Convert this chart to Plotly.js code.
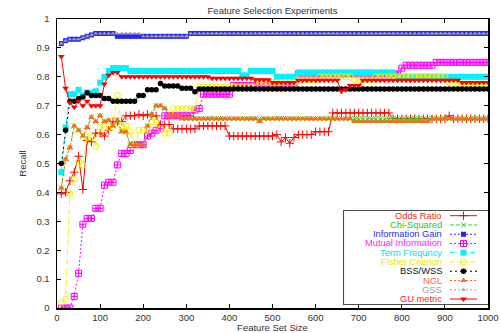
<!DOCTYPE html>
<html><head><meta charset="utf-8">
<script src="https://cdn.plot.ly/plotly-3.0.1.min.js"></script>
<style>html,body{margin:0;padding:0;background:#fff}#chart{width:501px;height:333px}</style>
</head><body><div id="chart"></div>
<script>
const featureSizes = [10,20,30,40,50,60,70,80,90,100,110,120,130,140,150,160,170,180,190,200,
210,220,230,240,250,260,270,280,290,300,310,320,330,340,350,360,370,380,390,400,
410,420,430,440,450,460,470,480,490,500,510,520,530,540,550,560,570,580,590,600,
610,620,630,640,650,660,670,680,690,700,710,720,730,740,750,760,770,780,790,800,
810,820,830,840,850,860,870,880,890,900,910,920,930,940,950,960,970,980,990,1000];

const oddsRatio = [0.395,0.40,0.44,0.47,0.525,0.41,0.58,0.575,0.605,0.605,
0.595,0.615,0.645,0.645,0.645,0.665,0.665,0.665,0.67,0.665,
0.67,0.665,0.665,0.635,0.635,0.635,0.62,0.62,0.62,0.62,
0.62,0.62,0.63,0.63,0.63,0.63,0.63,0.63,0.63,0.595,
0.595,0.595,0.595,0.595,0.595,0.595,0.595,0.595,0.595,0.595,
0.60,0.575,0.59,0.57,0.59,0.60,0.60,0.60,0.60,0.61,
0.61,0.61,0.61,0.675,0.675,0.675,0.675,0.675,0.675,0.675,
0.675,0.675,0.675,0.675,0.675,0.675,0.675,0.655,0.655,0.655,
0.655,0.655,0.655,0.655,0.655,0.655,0.655,0.655,0.655,0.655,
0.665,0.655,0.655,0.655,0.655,0.655,0.655,0.655,0.655,0.655];

const chiSquared = [0.415,0.515,0.555,0.63,0.615,0.595,0.625,0.66,0.645,0.665,
0.645,0.65,0.63,0.65,0.61,0.61,0.565,0.565,0.565,0.565,
0.63,0.67,0.70,0.70,0.69,0.665,0.665,0.665,0.655,0.655,
0.655,0.655,0.655,0.655,0.655,0.655,0.655,0.655,0.655,0.655,
0.655,0.655,0.655,0.655,0.655,0.655,0.655,0.655,0.655,0.655,
0.655,0.655,0.655,0.655,0.655,0.655,0.655,0.655,0.655,0.655,
0.655,0.655,0.655,0.655,0.655,0.655,0.655,0.655,0.655,0.655,
0.655,0.655,0.655,0.655,0.655,0.655,0.655,0.655,0.655,0.655,
0.655,0.655,0.655,0.655,0.655,0.655,0.655,0.655,0.655,0.655,
0.655,0.655,0.655,0.655,0.655,0.655,0.655,0.655,0.655,0.655];

const infoGain = [0.915,0.925,0.93,0.93,0.93,0.935,0.94,0.945,0.95,0.95,
0.95,0.95,0.95,0.94,0.94,0.94,0.94,0.94,0.94,0.94,
0.94,0.94,0.94,0.94,0.94,0.94,0.94,0.94,0.94,0.94,
0.95,0.95,0.95,0.95,0.95,0.95,0.95,0.95,0.95,0.95,
0.95,0.95,0.95,0.95,0.95,0.95,0.95,0.95,0.95,0.95,
0.95,0.95,0.95,0.95,0.95,0.95,0.95,0.95,0.95,0.95,
0.95,0.95,0.95,0.95,0.95,0.95,0.95,0.95,0.95,0.95,
0.95,0.95,0.95,0.95,0.95,0.95,0.95,0.95,0.95,0.95,
0.95,0.95,0.95,0.95,0.95,0.95,0.95,0.95,0.95,0.95,
0.95,0.95,0.95,0.95,0.95,0.95,0.95,0.95,0.95,0.95];

const mutualInfo = [0,0,0,0.04,0.12,0.29,0.31,0.31,0.345,0.345,
0.425,0.435,0.435,0.495,0.535,0.535,0.545,0.565,0.565,0.565,
0.595,0.605,0.615,0.62,0.665,0.665,0.665,0.665,0.665,0.665,
0.665,0.685,0.69,0.74,0.74,0.74,0.74,0.74,0.74,0.74,
0.77,0.77,0.77,0.77,0.77,0.77,0.77,0.77,0.77,0.77,
0.77,0.77,0.77,0.77,0.77,0.81,0.81,0.81,0.81,0.81,
0.81,0.81,0.81,0.81,0.81,0.81,0.81,0.81,0.81,0.81,
0.81,0.81,0.81,0.81,0.81,0.81,0.81,0.81,0.81,0.83,
0.84,0.84,0.84,0.84,0.84,0.84,0.84,0.85,0.85,0.85,
0.85,0.85,0.85,0.85,0.85,0.85,0.85,0.85,0.85,0.85];

const termFreq = [0.47,0.625,0.74,0.74,0.755,0.735,0.745,0.745,0.75,0.78,
0.80,0.82,0.83,0.83,0.83,0.83,0.82,0.82,0.82,0.82,
0.82,0.82,0.82,0.82,0.82,0.82,0.82,0.82,0.82,0.82,
0.82,0.82,0.82,0.82,0.82,0.82,0.82,0.82,0.82,0.82,
0.82,0.82,0.805,0.805,0.82,0.82,0.82,0.82,0.82,0.82,
0.80,0.80,0.80,0.80,0.80,0.815,0.815,0.815,0.815,0.815,
0.815,0.815,0.815,0.815,0.815,0.815,0.815,0.815,0.815,0.815,
0.815,0.815,0.815,0.815,0.815,0.815,0.815,0.815,0.80,0.80,
0.80,0.80,0.80,0.80,0.80,0.80,0.80,0.80,0.80,0.80,
0.80,0.80,0.80,0.80,0.80,0.80,0.80,0.80,0.80,0.80];

const fisher = [0.02,0.03,0.395,0.445,0.505,0.495,0.59,0.59,0.56,0.625,
0.625,0.625,0.625,0.735,0.63,0.63,0.61,0.56,0.615,0.615,
0.615,0.645,0.645,0.62,0.605,0.605,0.69,0.69,0.69,0.69,
0.69,0.69,0.765,0.765,0.765,0.765,0.765,0.765,0.765,0.765,
0.765,0.765,0.765,0.765,0.765,0.78,0.78,0.78,0.78,0.78,
0.78,0.78,0.78,0.78,0.78,0.79,0.79,0.79,0.79,0.79,
0.80,0.80,0.80,0.80,0.80,0.80,0.80,0.80,0.79,0.79,
0.79,0.79,0.79,0.80,0.80,0.80,0.80,0.80,0.80,0.80,
0.80,0.80,0.80,0.80,0.80,0.80,0.80,0.80,0.80,0.80,
0.78,0.78,0.78,0.775,0.775,0.775,0.775,0.775,0.775,0.775];

const bssWss = [0.50,0.615,0.715,0.715,0.725,0.73,0.745,0.735,0.735,0.735,
0.725,0.725,0.715,0.715,0.715,0.715,0.715,0.715,0.735,0.735,
0.755,0.755,0.755,0.777,0.768,0.768,0.768,0.768,0.76,0.76,
0.76,0.748,0.758,0.758,0.758,0.758,0.758,0.758,0.758,0.758,
0.758,0.758,0.758,0.758,0.758,0.758,0.758,0.758,0.758,0.758,
0.758,0.758,0.758,0.758,0.758,0.758,0.758,0.758,0.758,0.758,
0.758,0.758,0.758,0.758,0.758,0.758,0.758,0.758,0.758,0.758,
0.758,0.758,0.758,0.758,0.758,0.758,0.758,0.758,0.758,0.758,
0.758,0.758,0.758,0.758,0.758,0.758,0.758,0.758,0.758,0.758,
0.758,0.758,0.758,0.758,0.758,0.758,0.758,0.758,0.758,0.758];

const ngl = [0.415,0.515,0.555,0.63,0.615,0.595,0.625,0.66,0.645,0.665,
0.645,0.65,0.63,0.65,0.61,0.61,0.565,0.565,0.565,0.565,
0.63,0.67,0.70,0.70,0.69,0.665,0.665,0.665,0.655,0.655,
0.655,0.655,0.655,0.655,0.655,0.655,0.655,0.655,0.655,0.655,
0.655,0.655,0.655,0.655,0.655,0.655,0.645,0.655,0.655,0.655,
0.655,0.655,0.655,0.655,0.655,0.655,0.655,0.655,0.655,0.655,
0.655,0.655,0.655,0.655,0.655,0.655,0.655,0.655,0.645,0.645,
0.645,0.645,0.645,0.645,0.645,0.645,0.645,0.645,0.645,0.645,
0.645,0.645,0.645,0.645,0.645,0.645,0.655,0.655,0.655,0.655,
0.655,0.655,0.655,0.655,0.655,0.655,0.655,0.655,0.655,0.655];

const gss = [0.915,0.925,0.93,0.93,0.93,0.935,0.94,0.945,0.95,0.95,
0.95,0.95,0.95,0.95,0.95,0.95,0.95,0.95,0.95,0.94,
0.94,0.94,0.94,0.94,0.94,0.94,0.94,0.94,0.94,0.94,
0.95,0.95,0.95,0.95,0.95,0.95,0.95,0.95,0.95,0.95,
0.95,0.95,0.95,0.95,0.95,0.95,0.95,0.95,0.95,0.95,
0.95,0.95,0.95,0.95,0.95,0.95,0.95,0.95,0.95,0.95,
0.95,0.95,0.95,0.95,0.95,0.95,0.95,0.95,0.95,0.95,
0.95,0.95,0.95,0.95,0.95,0.95,0.95,0.95,0.95,0.95,
0.95,0.95,0.95,0.95,0.95,0.95,0.95,0.95,0.95,0.95,
0.95,0.95,0.95,0.95,0.95,0.95,0.95,0.95,0.95,0.95];

const guMetric = [0.87,0.76,0.71,0.695,0.715,0.70,0.715,0.70,0.70,0.70,
0.775,0.805,0.815,0.815,0.80,0.80,0.80,0.80,0.80,0.80,
0.80,0.80,0.80,0.80,0.80,0.80,0.80,0.80,0.80,0.80,
0.80,0.80,0.80,0.80,0.80,0.795,0.795,0.795,0.795,0.795,
0.795,0.795,0.795,0.795,0.795,0.79,0.79,0.79,0.79,0.78,
0.78,0.78,0.78,0.78,0.78,0.788,0.788,0.788,0.788,0.788,
0.788,0.788,0.788,0.788,0.788,0.75,0.755,0.77,0.77,0.77,
0.788,0.788,0.788,0.788,0.788,0.788,0.788,0.788,0.788,0.788,
0.788,0.788,0.788,0.788,0.788,0.788,0.788,0.788,0.788,0.788,
0.788,0.788,0.788,0.78,0.78,0.78,0.78,0.78,0.78,0.78];

const seriesNames = ['Odds Ratio','Chi-Squared','Information Gain','Mutual Information','Term Frequncy',
  'Fisher Crierion','BSS/WSS','NGL','GSS','GU metric'];
const seriesValues = [oddsRatio, chiSquared, infoGain, mutualInfo, termFreq, fisher, bssWss, ngl, gss, guMetric];

// styles (colour, text colour, dash, marker)
const styles = [
  {color:'#ff0000', text:'#ff1a1a', dash:'solid', symbol:'cross-thin-open', size:6, open:true},
  {color:'#22e022', text:'#22cc22', dash:'4px,2px', symbol:'x-thin-open', size:5, open:true},
  {color:'#2424ff', text:'#2a2aee', dash:'2px,2px', symbol:'square', size:5, open:false},
  {color:'#ff00ff', text:'#ff22ff', dash:'2px,2px', symbol:'square-cross-open', size:6, open:true},
  {color:'#00f4ff', text:'#00e0f0', dash:'5px,2px,1px,2px', symbol:'square', size:6, open:false},
  {color:'#f2f200', text:'#e8e800', dash:'5px,2px,1px,2px', symbol:'circle-open', size:6, open:true},
  {color:'#000000', text:'#111111', dash:'2px,3px', symbol:'circle', size:5.5, open:false},
  {color:'#ff6a1a', text:'#ff6633', dash:'2px,2px', symbol:'triangle-up', size:6, open:false},
  {color:'#a0a0a0', text:'#a0a0a0', dash:'2px,2px', symbol:'triangle-up', size:4, open:false},
  {color:'#ff0000', text:'#ff1a1a', dash:'solid', symbol:'triangle-down', size:6, open:false}
];

// legend box geometry (paper / legend axis units)
const LEGEND_BOX = {x0:0.666, x1:1, y0:0.0128, y1:0.3367};
const LEGEND_SAMPLE_X = [106, 119.5, 133];
const LEGEND_TEXT_X = 100;

const traces = [];
seriesNames.forEach((name, i) => {
  const s = styles[i];
  traces.push({
    x: featureSizes, y: seriesValues[i], type:'scatter', mode:'lines+markers',
    name: name, showlegend:false, hoverinfo:'skip', xaxis:'x', yaxis:'y',
    line:{color:s.color, width:1, dash:s.dash},
    marker:{symbol:s.symbol, size:s.size, color:s.color, line:{color:s.color, width:s.open?1:0}}
  });
});
const annotations = [];
seriesNames.forEach((name, i) => {
  const s = styles[i];
  const row = seriesNames.length - 1 - i;
  traces.push({
    x: LEGEND_SAMPLE_X, y: LEGEND_SAMPLE_X.map(() => row), type:'scatter', mode:'lines+markers',
    showlegend:false, hoverinfo:'skip', xaxis:'x2', yaxis:'y2',
    line:{color:s.color, width:1, dash:s.dash},
    marker:{symbol:s.symbol, size:[0, s.size, 0], opacity:[0,1,0], color:s.color, line:{color:s.color, width:s.open?1:0}}
  });
  annotations.push({xref:'x2', yref:'y2', x:LEGEND_TEXT_X, y:row, text:name, showarrow:false,
    xanchor:'right', yanchor:'middle', font:{size:9.3, color:s.text}});
});

const FONT = 'Liberation Sans, Arial, Helvetica, sans-serif';
const layout = {
  width:501, height:333,
  margin:{l:57, r:13, t:19, b:25, pad:0},
  paper_bgcolor:'#ffffff', plot_bgcolor:'#ffffff',
  font:{family:FONT, size:9.5, color:'#333333'},
  showlegend:false,
  title:{text:'Feature Selection Experiments', x:0.5, xref:'paper', xanchor:'center',
    y:0.968, yref:'container', yanchor:'middle', font:{family:FONT, size:9.5, color:'#333333'}},
  xaxis:{range:[0,1000], tick0:0, dtick:100, ticks:'inside', ticklen:4, tickcolor:'#000',
    showline:true, linecolor:'#000', linewidth:1.5, mirror:'ticks', showgrid:false, zeroline:false,
    tickfont:{size:9.5, color:'#333'}, fixedrange:true,
    title:{text:'Feature Set Size', standoff:0, font:{size:9.5, color:'#333'}}},
  yaxis:{range:[0,1], tick0:0, dtick:0.1, ticks:'inside', ticklen:4, tickcolor:'#000',
    showline:true, linecolor:'#000', linewidth:1.5, mirror:'ticks', showgrid:false, zeroline:false,
    tickfont:{size:9.5, color:'#333'}, ticklabelstandoff:4, fixedrange:true,
    title:{text:'Recall', standoff:8, font:{size:9.5, color:'#333'}}},
  xaxis2:{domain:[LEGEND_BOX.x0, LEGEND_BOX.x1], range:[0,144], visible:false, anchor:'y2', fixedrange:true},
  yaxis2:{domain:[LEGEND_BOX.y0, LEGEND_BOX.y1], range:[-0.57,9.54], visible:false, anchor:'x2', fixedrange:true},
  shapes:[{type:'rect', xref:'paper', yref:'paper', x0:LEGEND_BOX.x0, x1:LEGEND_BOX.x1,
    y0:LEGEND_BOX.y0, y1:LEGEND_BOX.y1, line:{color:'#000', width:1.5}, fillcolor:'#ffffff', layer:'below'}],
  annotations: annotations
};
Plotly.newPlot('chart', traces, layout, {staticPlot:true, displayModeBar:false});
</script>
</body></html>
